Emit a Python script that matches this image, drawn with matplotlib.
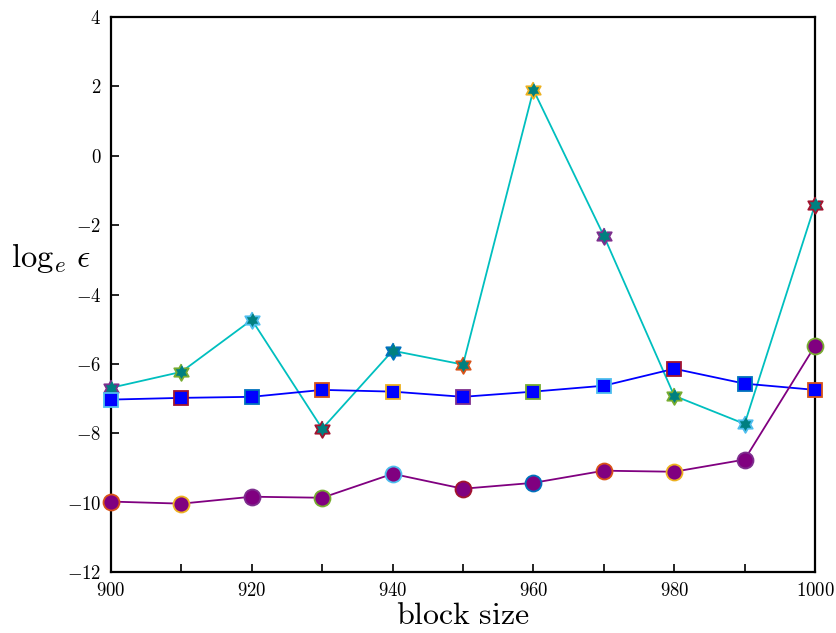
import numpy as np
import matplotlib
matplotlib.use("Agg")
import matplotlib.pyplot as plt

plt.rcParams["mathtext.fontset"] = "cm"
plt.rcParams["font.family"] = "serif"
plt.rcParams["font.serif"] = ["DejaVu Serif"]

block = [900, 910, 920, 930, 940, 950, 960, 970, 980, 990, 1000]
stars = [-6.69, -6.23, -4.73, -7.87, -5.62, -6.02, 1.90, -2.31, -6.92, -7.73, -1.41]
squares = [-7.03, -6.98, -6.95, -6.75, -6.80, -6.95, -6.80, -6.63, -6.14, -6.57, -6.75]
circles = [-9.97, -10.03, -9.83, -9.86, -9.17, -9.60, -9.43, -9.08, -9.11, -8.76, -5.48]

# matlab-like edge colours cycling per point
edge_cycle = [(0, 0.447, 0.741), (0.85, 0.325, 0.098), (0.929, 0.694, 0.125),
              (0.494, 0.184, 0.556), (0.466, 0.674, 0.188), (0.301, 0.745, 0.933),
              (0.635, 0.078, 0.184)]

# six-pointed star marker
ang = np.pi / 2 + np.arange(12) * np.pi / 6
rad = np.where(np.arange(12) % 2 == 0, 1.0, 0.58)
hexagram = list(zip(rad * np.cos(ang), rad * np.sin(ang)))

fig = plt.figure(figsize=(8.36, 6.33), dpi=100)
ax = fig.add_axes([0.1328, 0.0964, 0.8421, 0.8767])


def draw(y, line_c, face_c, marker, ms, offset):
    ax.plot(block, y, "-", color=line_c, lw=1.3, zorder=2)
    for i, (xv, yv) in enumerate(zip(block, y)):
        ax.plot(xv, yv, marker=marker, ms=ms, mfc=face_c,
                mec=edge_cycle[(i + offset) % 7], mew=1.3, ls="none",
                zorder=3, clip_on=False)


draw(stars, (0, 0.75, 0.75), (0, 0.5, 0.5), hexagram, 12, 3)
draw(squares, "blue", "blue", "s", 10, 5)
draw(circles, (0.5, 0, 0.5), (0.5, 0, 0.5), "o", 11.5, 1)

ax.set_xlim(900, 1000)
ax.set_ylim(-12, 4)
ax.set_xticks(range(900, 1001, 10))
ax.set_xticklabels([f"${v}$" if v % 20 == 0 else "" for v in range(900, 1001, 10)])
ax.set_yticks(range(-12, 5, 2))
ax.set_yticklabels([f"${v}$" for v in range(-12, 5, 2)])
ax.tick_params(direction="in", length=6, width=1.2, labelsize=13.5, top=False, right=False, pad=7)
for s in ax.spines.values():
    s.set_linewidth(1.6)

ax.set_xlabel(r"$\mathrm{block\ size}$", fontsize=23, labelpad=0)
ax.set_ylabel(r"$\log_e\,\epsilon$", fontsize=23.5, rotation=0, va="center")
ax.yaxis.set_label_coords(-0.086, 0.566)

fig.savefig("out.png", dpi=100)
